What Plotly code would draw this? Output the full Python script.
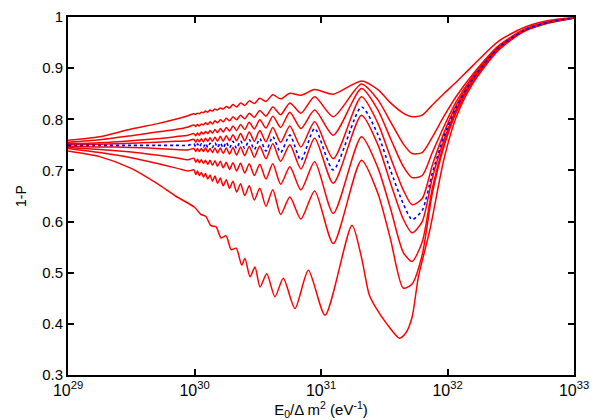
import plotly.graph_objs as go

# log10(E0 / dm^2) sampling points shared by curves 1-8
log_e = [29.0, 29.25, 29.5, 29.7, 29.85, 29.95,
         29.995, 30.010, 30.024, 30.039, 30.054, 30.071, 30.087, 30.105, 30.123, 30.142,
         30.162, 30.182, 30.204, 30.227, 30.251, 30.277, 30.304, 30.333, 30.364, 30.397,
         30.433, 30.473, 30.516, 30.565, 30.619, 30.681, 30.754, 30.841, 30.950, 31.097, 31.320,
         31.45, 31.55, 31.65, 31.72, 31.80, 31.88, 31.97, 32.07, 32.2, 32.4, 32.6, 32.8, 33.0]

p_curve1 = [0.759, 0.766, 0.781, 0.791, 0.800, 0.807,
            0.811, 0.810, 0.812, 0.811, 0.814, 0.813, 0.816, 0.814, 0.818, 0.816,
            0.820, 0.818, 0.822, 0.820, 0.825, 0.822, 0.829, 0.824, 0.832, 0.827,
            0.836, 0.831, 0.841, 0.835, 0.848, 0.840, 0.851, 0.847, 0.858, 0.849, 0.875,
            0.858, 0.832, 0.812, 0.805, 0.808, 0.828, 0.850, 0.873, 0.905, 0.952, 0.979, 0.993, 0.999]

p_curve2 = [0.755, 0.760, 0.768, 0.775, 0.780, 0.785,
            0.789, 0.786, 0.790, 0.787, 0.791, 0.789, 0.793, 0.790, 0.795, 0.791,
            0.797, 0.793, 0.799, 0.795, 0.802, 0.797, 0.805, 0.799, 0.808, 0.801,
            0.812, 0.804, 0.817, 0.806, 0.824, 0.809, 0.832, 0.812, 0.844, 0.805, 0.869,
            0.838, 0.795, 0.752, 0.733, 0.735, 0.765, 0.805, 0.845, 0.888, 0.943, 0.975, 0.991, 0.998]

p_curve3 = [0.752, 0.754, 0.758, 0.762, 0.766, 0.769,
            0.772, 0.768, 0.773, 0.769, 0.775, 0.771, 0.776, 0.772, 0.778, 0.773,
            0.780, 0.774, 0.782, 0.775, 0.784, 0.777, 0.787, 0.778, 0.790, 0.780,
            0.794, 0.781, 0.799, 0.783, 0.806, 0.784, 0.814, 0.782, 0.818, 0.769, 0.860,
            0.818, 0.762, 0.708, 0.686, 0.690, 0.735, 0.785, 0.835, 0.884, 0.941, 0.974, 0.990, 0.998]

p_curve4 = [0.750, 0.751, 0.753, 0.755, 0.757, 0.758,
            0.761, 0.755, 0.761, 0.756, 0.762, 0.756, 0.763, 0.757, 0.764, 0.757,
            0.765, 0.757, 0.767, 0.757, 0.768, 0.758, 0.770, 0.758, 0.772, 0.758,
            0.775, 0.757, 0.778, 0.756, 0.784, 0.755, 0.787, 0.746, 0.795, 0.723, 0.844,
            0.792, 0.725, 0.662, 0.633, 0.645, 0.710, 0.772, 0.828, 0.881, 0.940, 0.974, 0.990, 0.998]

# dotted blue reference curve
p_blue = [0.749, 0.749, 0.749, 0.749, 0.749, 0.749,
          0.752, 0.746, 0.752, 0.746, 0.752, 0.746, 0.753, 0.745, 0.753, 0.745,
          0.754, 0.745, 0.754, 0.744, 0.755, 0.744, 0.757, 0.743, 0.758, 0.743,
          0.760, 0.741, 0.762, 0.738, 0.766, 0.735, 0.769, 0.720, 0.782, 0.701, 0.824,
          0.770, 0.700, 0.635, 0.604, 0.622, 0.695, 0.765, 0.824, 0.879, 0.939, 0.973, 0.990, 0.998]

p_curve6 = [0.747, 0.746, 0.745, 0.743, 0.741, 0.740,
            0.743, 0.737, 0.743, 0.737, 0.743, 0.737, 0.744, 0.736, 0.743, 0.735,
            0.744, 0.734, 0.744, 0.733, 0.744, 0.732, 0.745, 0.730, 0.746, 0.729,
            0.747, 0.726, 0.748, 0.723, 0.752, 0.718, 0.750, 0.703, 0.763, 0.675, 0.808,
            0.750, 0.675, 0.605, 0.578, 0.600, 0.685, 0.758, 0.820, 0.877, 0.938, 0.973, 0.989, 0.998]

p_curve7 = [0.745, 0.741, 0.736, 0.730, 0.725, 0.721,
            0.724, 0.716, 0.722, 0.715, 0.721, 0.714, 0.720, 0.712, 0.720, 0.710,
            0.719, 0.708, 0.718, 0.705, 0.716, 0.702, 0.715, 0.699, 0.714, 0.695,
            0.713, 0.690, 0.712, 0.683, 0.713, 0.673, 0.707, 0.662, 0.717, 0.616, 0.766,
            0.705, 0.625, 0.540, 0.522, 0.560, 0.665, 0.750, 0.817, 0.875, 0.937, 0.972, 0.989, 0.998]

p_curve8 = [0.743, 0.735, 0.725, 0.714, 0.705, 0.699,
            0.701, 0.692, 0.699, 0.690, 0.696, 0.687, 0.694, 0.683, 0.691, 0.679,
            0.689, 0.675, 0.685, 0.670, 0.682, 0.665, 0.679, 0.658, 0.674, 0.651,
            0.670, 0.642, 0.665, 0.630, 0.662, 0.614, 0.648, 0.605, 0.660, 0.557, 0.720,
            0.655, 0.565, 0.470, 0.478, 0.535, 0.655, 0.745, 0.814, 0.873, 0.936, 0.972, 0.989, 0.998]

# lowest curve has its own sampling (its wiggles are shifted)
log_e_9 = [29.0, 29.25, 29.5, 29.7, 29.85, 30.00, 30.05, 30.09, 30.13, 30.17, 30.21, 30.25,
           30.29, 30.33, 30.373, 30.399, 30.439, 30.478, 30.518, 30.571, 30.636, 30.702,
           30.794, 30.900, 31.032, 31.245, 31.32, 31.38, 31.43, 31.52, 31.62, 31.67, 31.72,
           31.77, 31.86, 31.97, 32.07, 32.2, 32.4, 32.6, 32.8, 33.0]
p_curve9 = [0.738, 0.727, 0.704, 0.675, 0.650, 0.628, 0.614, 0.610, 0.592, 0.590, 0.568, 0.572,
            0.545, 0.548, 0.515, 0.528, 0.492, 0.511, 0.472, 0.498, 0.453, 0.489,
            0.430, 0.505, 0.417, 0.593, 0.530, 0.458, 0.433, 0.400, 0.372, 0.382, 0.413,
            0.492, 0.583, 0.720, 0.805, 0.870, 0.934, 0.971, 0.988, 0.998]

x_ticks = [29, 30, 31, 32, 33]
y_ticks = [0.3, 0.4, 0.5, 0.6, 0.7, 0.8, 0.9, 1.0]
y_tick_labels = ['0.3', '0.4', '0.5', '0.6', '0.7', '0.8', '0.9', '1']

x_vals = [10.0 ** v for v in log_e]
x_vals_9 = [10.0 ** v for v in log_e_9]

fig = go.Figure()

red_line = dict(color='#ff0000', width=1.5, shape='spline', smoothing=0.7)
for y_data in [p_curve1, p_curve2, p_curve3, p_curve4, p_curve6, p_curve7, p_curve8]:
    fig.add_trace(go.Scatter(x=x_vals, y=y_data, mode='lines', line=red_line))

fig.add_trace(go.Scatter(x=x_vals_9, y=p_curve9, mode='lines', line=red_line))

fig.add_trace(go.Scatter(
    x=x_vals, y=p_blue, mode='lines',
    line=dict(color='#0000ff', width=1.6, dash='dot', shape='spline', smoothing=0.7)
))

axis_font = dict(family='Liberation Sans, Arial, sans-serif', size=15, color='black')

# the page body adds an 8px margin, so the figure is a bit smaller than the window
fig.update_layout(
    width=591, height=412,
    margin=dict(l=60, r=25, t=9, b=45),
    paper_bgcolor='white', plot_bgcolor='white',
    showlegend=False,
    font=axis_font,
    xaxis=dict(
        type='log', range=[29, 33], automargin=False,
        tickvals=[10.0 ** t for t in x_ticks],
        ticktext=['10<sup>%d</sup>' % t for t in x_ticks],
        tickfont=dict(size=16),
        ticks='inside', ticklen=6, tickwidth=2, tickcolor='black',
        showline=True, linewidth=2, linecolor='black', mirror='ticks',
        showgrid=False, zeroline=False,
        title=dict(text='E<sub>0</sub>/Δ m<sup>2</sup> (eV<sup>-1</sup>)', standoff=2,
                   font=dict(size=15)),
    ),
    yaxis=dict(
        range=[0.3, 1.0], automargin=False,
        tickvals=y_ticks, ticktext=y_tick_labels,
        tickfont=dict(size=15),
        ticks='inside', ticklen=6, tickwidth=2, tickcolor='black',
        showline=True, linewidth=2, linecolor='black', mirror='ticks',
        showgrid=False, zeroline=False,
        title=dict(text='1-P', standoff=12, font=dict(size=14)),
    ),
)

fig.write_html("out.html")
